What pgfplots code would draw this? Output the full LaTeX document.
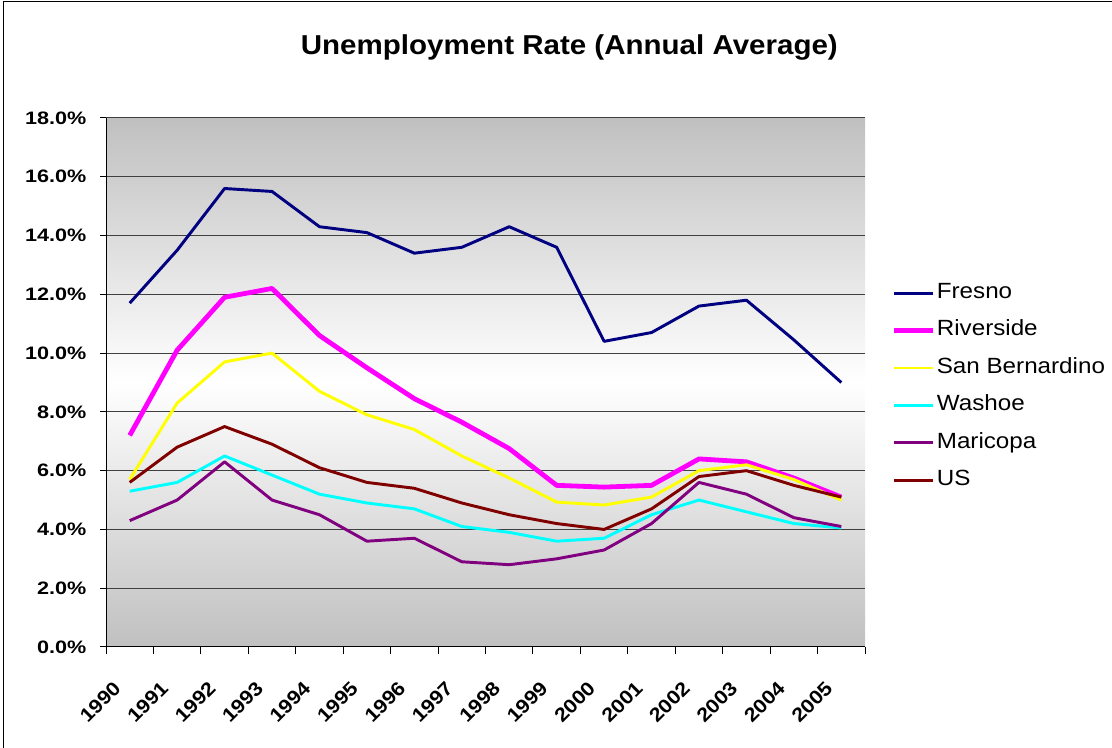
\documentclass[border=0pt]{standalone}
\usepackage{pgfplots}
\pgfplotsset{compat=1.18}
\usepackage{pgfplotstable}
\usepackage{graphicx}
\usepackage{fontspec}
\setmainfont{Liberation Sans}
\newfontfamily\tickfont[FakeStretch=1.2]{Liberation Sans}
\newfontfamily\xtickfont[FakeStretch=1.12]{Liberation Sans}
\newfontfamily\titlefont[FakeStretch=1.08]{Liberation Sans}
\newfontfamily\legfont[FakeStretch=1.1]{Liberation Sans}
\newcommand{\R}[1]{\rotatebox{45}{#1}}
\definecolor{cfresno}{RGB}{0,0,128}
\definecolor{criver}{RGB}{255,0,255}
\definecolor{csanb}{RGB}{255,255,0}
\definecolor{cwashoe}{RGB}{0,255,255}
\definecolor{cmari}{RGB}{128,0,128}
\definecolor{cus}{RGB}{128,0,0}
\definecolor{bgray}{RGB}{192,192,192}
\pgfplotstableread{
x fresno riverside sanb washoe maricopa us
0 11.7 7.2 5.7 5.3 4.3 5.6
1 13.5 10.1 8.3 5.6 5.0 6.8
2 15.6 11.9 9.7 6.5 6.3 7.5
3 15.5 12.2 10.0 5.85 5.0 6.9
4 14.3 10.6 8.7 5.2 4.5 6.1
5 14.1 9.5 7.9 4.9 3.6 5.6
6 13.4 8.45 7.4 4.7 3.7 5.4
7 13.6 7.65 6.5 4.1 2.9 4.9
8 14.3 6.75 5.75 3.9 2.8 4.5
9 13.6 5.5 4.93 3.6 3.0 4.2
10 10.4 5.44 4.83 3.7 3.3 4.0
11 10.7 5.5 5.1 4.5 4.2 4.7
12 11.6 6.4 6.0 5.0 5.6 5.8
13 11.8 6.3 6.2 4.6 5.2 6.0
14 10.45 5.75 5.7 4.2 4.4 5.5
15 9.0 5.1 5.0 4.05 4.1 5.1
}\data
\begin{document}
\begin{tikzpicture}
\draw[black, line width=0.75pt] (2.5pt,0pt) -- (2.5pt,559.5pt) -- (834pt,559.5pt);
\node[anchor=base, font=\titlefont\bfseries\fontsize{20.5}{24}\selectfont] at (427pt,519.75pt) {Unemployment Rate (Annual Average)};
\begin{axis}[
  at={(79.5pt,75.75pt)}, anchor=south west,
  width=569.25pt, height=396.75pt, scale only axis,
  xmin=-0.5, xmax=15.5, ymin=0, ymax=18,
  axis x line*=bottom, axis y line*=left,
  axis line style={black, line width=0.75pt},
  tick align=outside,
  xtick={0,...,15},
  xticklabels={\R{1990},\R{1991},\R{1992},\R{1993},\R{1994},\R{1995},\R{1996},\R{1997},\R{1998},\R{1999},\R{2000},\R{2001},\R{2002},\R{2003},\R{2004},\R{2005}},
  minor xtick={-0.5,0.5,...,15.5},
  major x tick style={draw=none},
  minor x tick style={black, line width=0.75pt},
  minor tick length=5pt,
  major tick length=4.5pt,
  ytick={0,2,...,18},
  y tick style={black, line width=0.75pt},
  ymajorgrids,
  major grid style={draw=black!75, line width=0.75pt},
  /pgf/number format/assume math mode=true,
  yticklabel={\pgfmathprintnumber[fixed,fixed zerofill,precision=1]{\tick}\%},
  yticklabel style={font=\tickfont\bfseries\fontsize{13.5}{16}\selectfont, inner sep=0pt, anchor=east, xshift=-10pt},
  xticklabel style={font=\xtickfont\bfseries\fontsize{14.5}{17}\selectfont, inner sep=0pt, anchor=north east, xshift=-5.5pt, yshift=-20pt},
  axis background/.style={shade, top color=bgray, bottom color=bgray, middle color=white},
  legend style={draw=none, fill=none, at={(1.03,0.696)}, anchor=north west,
    font=\legfont\fontsize{16.5}{19}\selectfont, row sep=11.1pt,
    nodes={inner sep=1pt, text height=11.5pt, text depth=3.5pt}},
  legend cell align=left,
  legend image code/.code={\draw[#1] (0pt,0pt) -- (29pt,0pt);},
  every axis plot/.append style={line join=round},
]
\addplot[cfresno, line width=2.2pt] table[x=x,y=fresno] {\data};
\addlegendentry{Fresno}
\addplot[criver, line width=3.6pt] table[x=x,y=riverside] {\data};
\addlegendentry{Riverside}
\addplot[csanb, line width=2.2pt] table[x=x,y=sanb] {\data};
\addlegendentry{San Bernardino}
\addplot[cwashoe, line width=2.2pt] table[x=x,y=washoe] {\data};
\addlegendentry{Washoe}
\addplot[cmari, line width=2.2pt] table[x=x,y=maricopa] {\data};
\addlegendentry{Maricopa}
\addplot[cus, line width=2.2pt] table[x=x,y=us] {\data};
\addlegendentry{US}
\end{axis}
\pgfresetboundingbox
\path[use as bounding box] (0pt,0pt) rectangle (834pt,561pt);
\end{tikzpicture}
\end{document}
